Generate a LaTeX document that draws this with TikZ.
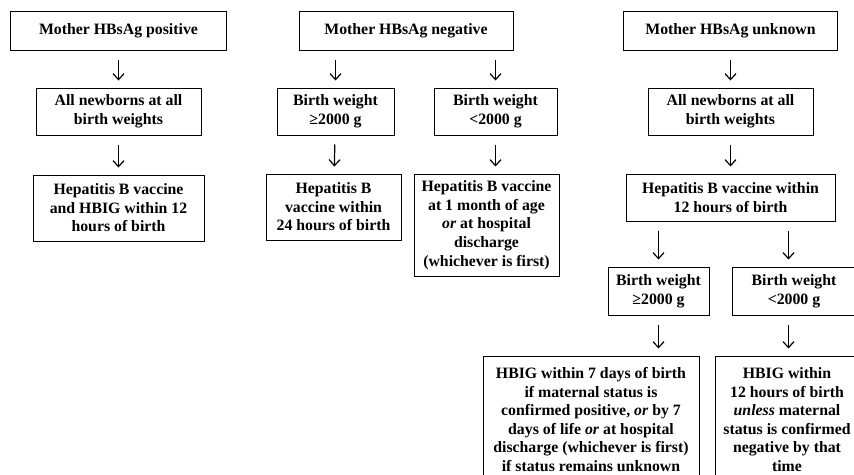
\documentclass[tikz,border=0pt]{standalone}
\usepackage{fontspec}
\setmainfont{Liberation Serif}
\usepackage{tikz}
\usetikzlibrary{positioning,arrows.meta}

\begin{document}
\begin{tikzpicture}[x=1pt,y=-1pt,
	every node/.style={draw=black,line width=1pt,align=center,inner sep=0pt,font=\bfseries\fontsize{15.8}{18.6}\selectfont},
	arr/.style={line width=1.2pt,-{Straight Barb[length=6pt,width=11pt]},shorten <=9pt,shorten >=7pt}]
		\useasboundingbox (0,0) rectangle (854,474);
		\clip (0,0) rectangle (854,474);

		%positive column
		\node[minimum width=216,minimum height=39] (a1) at (118.5,30.5) {Mother HBsAg positive};
		\node[minimum width=165,minimum height=47] (a2) at (118.5,111.5) {All newborns at all\\birth weights};
		\node[minimum width=171,minimum height=66] (a3) at (118.5,208) {Hepatitis B vaccine\\and HBIG within 12\\hours of birth};

		%negative column
		\node[minimum width=214,minimum height=39] (b1) at (406,30.5) {Mother HBsAg negative};
		\node[minimum width=117,minimum height=47] (b2) at (335.5,111.5) {Birth weight\\≥2000 g};
		\node[minimum width=123,minimum height=47] (b3) at (495.5,111.5) {Birth weight\\<2000 g};
		\node[minimum width=135,minimum height=66] (b4) at (333.5,207) {Hepatitis B\\vaccine within\\24 hours of birth};
		\node[minimum width=145,minimum height=102] (b5) at (486.5,225) {Hepatitis B vaccine\\at 1 month of age\\\textit{or} at hospital\\discharge\\(whichever is first)};

		%unknown column
		\node[minimum width=214,minimum height=39] (c1) at (730.5,30.5) {Mother HBsAg unknown};
		\node[minimum width=165,minimum height=47] (c2) at (730.5,111.5) {All newborns at all\\birth weights};
		\node[minimum width=209,minimum height=47] (c3) at (730.5,197.5) {Hepatitis B vaccine within\\12 hours of birth};
		\node[minimum width=101,minimum height=48] (c4) at (658.5,291) {Birth weight\\≥2000 g};
		\node[minimum width=124,minimum height=48] (c5) at (794,291) {Birth weight\\<2000 g};
		\node[minimum width=216,minimum height=127] (c6) at (591,419.5) {HBIG within 7 days of birth\\if maternal status is\\confirmed positive, \textit{or} by 7\\days of life \textit{or} at hospital\\discharge (whichever is first)\\if status remains unknown};
		\node[minimum width=144,minimum height=127] (c7) at (787,419.5) {HBIG within\\12 hours of birth\\\textit{unless} maternal\\status is confirmed\\negative by that\\time};

		%arrows
		\draw[arr] (a1) -- (a2);
		\draw[arr] (a2) -- (a3);
		\draw[arr] (b1.south -| b2) -- (b2);
		\draw[arr] (b1.south -| b3) -- (b3);
		\draw[arr] (b2) -- (b4);
		\draw[arr] (b3.south) -- (b3.south |- b5.north);
		\draw[arr] (c1) -- (c2);
		\draw[arr] (c2) -- (c3);
		\draw[arr] (c3.south -| c4) -- (c4);
		\draw[arr] (c3.south -| 788.5,0) -- (c5.north -| 788.5,0);
		\draw[arr] (c4.south) -- (c4.south |- c6.north);
		\draw[arr] (c5.south -| 788.5,0) -- (c7.north -| 788.5,0);
	\end{tikzpicture}
\end{document}
